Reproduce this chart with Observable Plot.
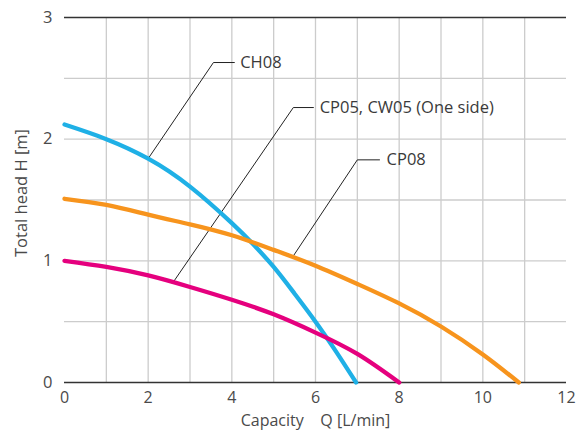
<!DOCTYPE html>
<html>
<head>
<meta charset="utf-8">
<script src="https://cdn.jsdelivr.net/npm/d3@7"></script>
<script src="https://cdn.jsdelivr.net/npm/@observablehq/plot@0.6"></script>
<style>
  html, body { margin: 0; padding: 0; background: #fff; }
  svg { font-family: "Open Sans", sans-serif; }
</style>
</head>
<body>
<div id="chart"></div>
<script>
// Curve data: [capacity Q (L/min), total head H (m)]
const ch08 = [[0,2.12],[1,2.0],[2,1.84],[3,1.61],[4,1.31],[4.5,1.14],[5,0.95],[5.5,0.73],[6,0.5],[6.5,0.25],[6.97,0]];
const cp08 = [[0,1.51],[1,1.46],[2,1.38],[3,1.3],[4,1.21],[5,1.09],[6,0.96],[7,0.81],[8,0.65],[9,0.46],[10,0.23],[10.86,0]];
const cp05 = [[0,1.0],[1,0.95],[2,0.88],[3,0.785],[4,0.68],[5,0.56],[6,0.41],[7,0.235],[8,0]];

const seriesNames = ["CH08", "CP08", "CP05, CW05 (One side)"];
const seriesColors = ["#1fb0e6", "#f7941d", "#e5007e"];
const seriesData = [ch08, cp08, cp05];

// Leader lines: start on curve, elbow, end; label position
const leaderStart = [[2.0,1.84],[5.45,1.03],[2.58,0.815]];
const leaderElbow = [[3.56,2.63],[7.0,1.83],[5.47,2.26]];
const leaderEnd = [[4.06,2.63],[7.53,1.83],[5.95,2.26]];
const labelAt = [[4.2,2.63],[7.7,1.83],[6.1,2.26]];

const xTicks = [0,2,4,6,8,10,12];
const yTicks = [0,1,2,3];
const xGrid = [1,2,3,4,5,6,7,8,9,10,11];
const yGrid = [0.5,1,1.5,2,2.5];

const xTitle = "Capacity\u00a0\u00a0\u00a0\u00a0Q [L/min]";
const yTitle = "Total head H [m]";

const rows = seriesData.flatMap((d, i) => d.map(([q, h]) => ({series: seriesNames[i], q, h})));
const leaders = seriesNames.flatMap((s, i) => [
  {series: s, q: leaderStart[i][0], h: leaderStart[i][1]},
  {series: s, q: leaderElbow[i][0], h: leaderElbow[i][1]},
  {series: s, q: leaderEnd[i][0], h: leaderEnd[i][1]}
]);
const labels = seriesNames.map((s, i) => ({series: s, q: labelAt[i][0], h: labelAt[i][1]}));

const chart = Plot.plot({
  width: 576,
  height: 430,
  marginLeft: 64,
  marginRight: 10,
  marginTop: 17,
  marginBottom: 48,
  style: {fontFamily: "'Open Sans', sans-serif", fontSize: "16.5px", color: "#444", background: "#fff"},
  x: {domain: [0, 12]},
  y: {domain: [0, 3]},
  color: {domain: seriesNames, range: seriesColors},
  marks: [
    Plot.ruleX(xGrid, {stroke: "#cccccc", strokeWidth: 1.3, strokeOpacity: 1}),
    Plot.ruleY(yGrid, {stroke: "#cccccc", strokeWidth: 1.3, strokeOpacity: 1}),
    Plot.ruleY([0, 3], {stroke: "#333", strokeWidth: 1.6}),
    Plot.axisX({ticks: xTicks, tickSize: 0, tickPadding: 9, label: null, fontSize: 16, fill: "#4a4a4a", tickFormat: d3.format("d")}),
    Plot.axisY({ticks: yTicks, tickSize: 0, tickPadding: 12, label: null, fontSize: 16.5, fill: "#4a4a4a", tickFormat: d3.format("d")}),
    Plot.line(leaders, {x: "q", y: "h", z: "series", stroke: "#222", strokeWidth: 1}),
    Plot.line(rows, {x: "q", y: "h", z: "series", stroke: "series", strokeWidth: 4.3, curve: "natural"}),
    Plot.text(labels, {x: "q", y: "h", text: "series", textAnchor: "start", fill: "#3a3a3a", fontSize: 16.5}),
    Plot.text([xTitle], {frameAnchor: "bottom", lineAnchor: "middle", textAnchor: "middle", dy: 38.5, fill: "#4a4a4a", fontSize: 16}),
    Plot.text([yTitle], {frameAnchor: "left", textAnchor: "middle", lineAnchor: "middle", dx: -43, dy: -7, rotate: -90, fill: "#4a4a4a", fontSize: 16.5})
  ]
});
document.getElementById("chart").appendChild(chart);
</script>
</body>
</html>
